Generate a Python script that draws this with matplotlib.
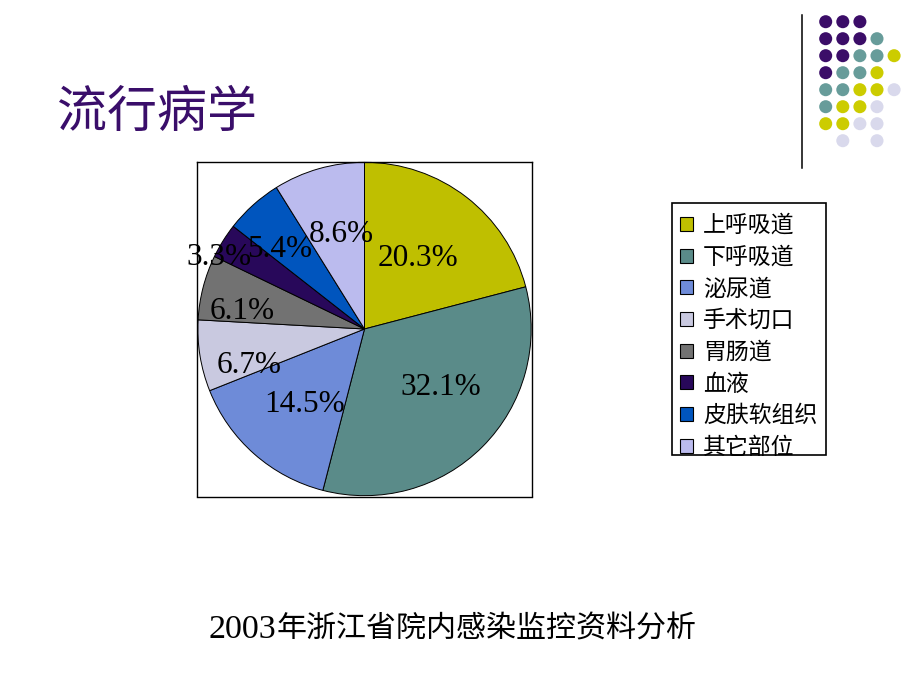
import numpy as np
import matplotlib
matplotlib.use("Agg")
import matplotlib.pyplot as plt
from matplotlib.patches import Patch, Rectangle

# ---- data ----
categories = ["上呼吸道", "下呼吸道", "泌尿道", "手术切口", "胃肠道", "血液", "皮肤软组织", "其它部位"]
values = [20.3, 32.1, 14.5, 6.7, 6.1, 3.3, 5.4, 8.6]
colors = ["#BFBF00", "#5A8B89", "#6E8BD8", "#C9C9E0", "#727272", "#28085A", "#0055BE", "#BBBBEE"]
# label placement (radial distance as fraction of radius, angular offset from slice middle in degrees)
label_dist = [0.542, 0.568, 0.563, 0.72, 0.747, 0.98, 0.71, 0.60]
label_rot = [1.5, 9.1, 1.7, 6.8, 5.0, 4.9, 3.9, -2.7]
title = "流行病学"
caption_year = "2003"
caption_rest = "年浙江省院内感染监控资料分析"

# decorative dot grid (rows top->bottom, None = empty)
dot_rows = [
    ["P", "P", "P", None, None],
    ["P", "P", "P", "T", None],
    ["P", "P", "T", "T", "Y"],
    ["P", "T", "T", "Y", None],
    ["T", "T", "Y", "Y", "L"],
    ["T", "Y", "Y", "L", None],
    ["Y", "Y", "L", "L", None],
    [None, "L", None, "L", None],
]
dot_colors = {"P": "#3B0D68", "T": "#679C9A", "Y": "#CCCC00", "L": "#D9D9EC"}

W, H = 920, 690
fig = plt.figure(figsize=(W / 100, H / 100), dpi=100)
fig.patch.set_facecolor("white")

# overlay axes in pixel coordinates for decoration
ov = fig.add_axes([0, 0, 1, 1])
ov.set_xlim(0, W)
ov.set_ylim(H, 0)
ov.axis("off")
xs, ys, cs = [], [], []
for r, row in enumerate(dot_rows):
    for c, k in enumerate(row):
        if k is not None:
            xs.append(825.7 + 17.1 * c)
            ys.append(21.7 + 17.0 * r)
            cs.append(dot_colors[k])
ov.scatter(xs, ys, s=88, c=cs, linewidths=0)
ov.plot([802, 802], [15, 168], color="black", lw=1.1)

# title
ov.text(57, 113, title, fontsize=36, color="#3A0E6A", family=["Noto Sans CJK SC", "DejaVu Sans"],
        ha="left", va="center")
# caption (serif digits + CJK)
ov.text(276, 638, caption_year, fontsize=24.5, color="black",
        family="Liberation Serif", ha="right", va="baseline")
ov.text(277, 637, caption_rest, fontsize=21.6, color="black",
        family=["Noto Sans CJK SC", "DejaVu Sans"], ha="left", va="baseline")

# legend frame
ov.add_patch(Rectangle((672, 203), 154, 252, facecolor="white", edgecolor="black", lw=1.2, zorder=1))

# pie
ax = fig.add_axes([197 / W, 1 - 497 / H, 335 / W, 336 / H])
wedges, _ = ax.pie(values, colors=colors, startangle=90, counterclock=False,
                   wedgeprops=dict(edgecolor="black", linewidth=0.7), radius=1.0)
ax.set_xlim(-1.005, 1.005)
ax.set_ylim(-1.005, 1.005)
ax.set_frame_on(True)
for sp in ax.spines.values():
    sp.set_visible(True)
    sp.set_color("black")
    sp.set_linewidth(1.0)
ax.set_xticks([])
ax.set_yticks([])

for w, v, d, o in zip(wedges, values, label_dist, label_rot):
    ang = np.deg2rad((w.theta1 + w.theta2) / 2 + o)
    ax.text(d * np.cos(ang), d * np.sin(ang) - 0.062, f"{v:.1f}%", ha="center", va="baseline",
            fontsize=22.5, family="Liberation Serif", color="black", clip_on=False)

# legend
handles = [Patch(facecolor=c, edgecolor="black", linewidth=0.8) for c in colors]
leg = fig.legend(handles, categories, loc="upper left",
                 bbox_to_anchor=(680 / W, 1 - 214 / H),
                 prop={"family": ["Noto Sans CJK SC", "DejaVu Sans"], "size": 16.5},
                 frameon=False, borderaxespad=0,
                 handlelength=0.57, handleheight=0.57, handletextpad=0.44,
                 labelspacing=0.38, borderpad=0.0)

fig.savefig("out.png", dpi=100, facecolor="white")
